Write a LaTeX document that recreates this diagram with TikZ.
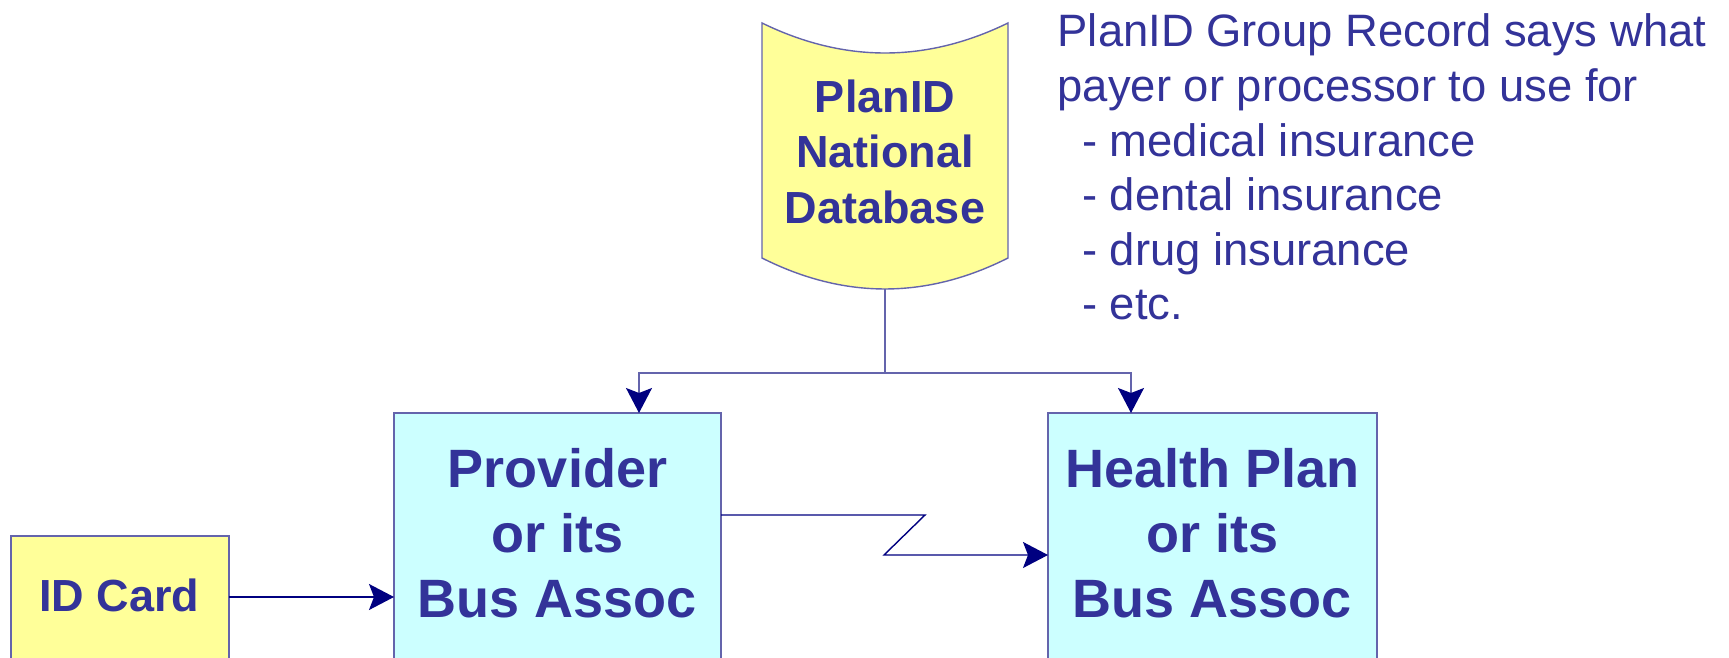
\documentclass[tikz,border=0pt]{standalone}
\usepackage{fontspec}
\setmainfont{Liberation Sans}
\usetikzlibrary{arrows.meta}

\definecolor{inkblue}{RGB}{51,51,153}
\definecolor{edgeblue}{RGB}{100,100,172}
\definecolor{navyline}{RGB}{0,0,128}
\definecolor{paleyellow}{RGB}{255,255,153}
\definecolor{palecyan}{RGB}{204,255,255}

\begin{document}
\begin{tikzpicture}[x=1pt,y=-1pt,
  box/.style={draw=edgeblue, line width=1.4pt, inner sep=0pt, outer sep=0pt, anchor=north west},
  ybox/.style={box, fill=paleyellow},
  cbox/.style={box, fill=palecyan},
  heavy/.style={font=\bfseries\fontsize{54}{65}\selectfont, text=inkblue, align=center, inner sep=0pt},
  medium/.style={font=\bfseries\fontsize{45}{55.5}\selectfont, text=inkblue, align=center, inner sep=0pt},
  note/.style={font=\fontsize{45.4}{54.6}\selectfont, text=inkblue, align=left, inner sep=0pt, anchor=north west},
  tip/.style={-{Stealth[length=25pt,width=26pt,inset=5pt,color=navyline]}},
  feed/.style={draw=edgeblue, line width=1.4pt, tip},
  flow/.style={draw=navyline, line width=1.4pt, tip},
]
\useasboundingbox (0,0) rectangle (1729,658);
\clip (0,0) rectangle (1729,658);
\fill[white] (0,0) rectangle (1729,658);

% database symbol (curved top and bottom)
\draw[edgeblue, line width=1.4pt, fill=paleyellow]
  (762,23) .. controls (844,63) and (926,63) .. (1008,23) -- (1008,258)
  .. controls (926,299.3) and (844,299.3) .. (762,258) -- cycle;
\coordinate (dbfoot) at (885,289);
\node[medium] (dbtext) at (885,151.6) {PlanID\\National\\Database};

% boxes (they run past the lower edge)
\node[ybox, minimum width=218pt, minimum height=140pt] (card) at (11,536) {};
\node[cbox, minimum width=327pt, minimum height=260pt] (prov) at (394,413) {};
\node[cbox, minimum width=329pt, minimum height=260pt] (plan) at (1048,413) {};

\node[medium, anchor=base] (cardtext) at (119.5,611) {ID Card};
\node[heavy] (provtext) at (557.5,532.9) {Provider\\or its\\Bus Assoc};
\node[heavy] (plantext) at (1212.5,532.9) {Health Plan\\or its\\Bus Assoc};

\node[note] (remark) at (1057.5,13.8) {PlanID Group Record says what\\
payer or processor to use for\\
\hspace*{24.5pt}- medical insurance\\
\hspace*{24.5pt}- dental insurance\\
\hspace*{24.5pt}- drug insurance\\
\hspace*{24.5pt}- etc.};

% lookup lines from the database
\coordinate (split) at (885,373);
\coordinate (provin) at ([xshift=245pt]prov.north west);
\coordinate (planin) at ([xshift=83pt]plan.north west);
\draw[draw=edgeblue, line width=1.4pt] (dbfoot) -- (split);
\draw[feed] (split) -| (provin);
\draw[feed] (split) -| (planin);

% card to provider
\coordinate (cardout) at ([yshift=-61pt]card.north east);
\draw[flow] (cardout) -- (cardout -| prov.west);

% provider to health plan (link symbol)
\coordinate (provout) at ([yshift=-102pt]prov.north east);
\coordinate (planlow) at ([yshift=-142pt]plan.north west);
\draw[flow] (provout) -- ++(204,0) -- ++(-41,40) -- (planlow);
\end{tikzpicture}
\end{document}
